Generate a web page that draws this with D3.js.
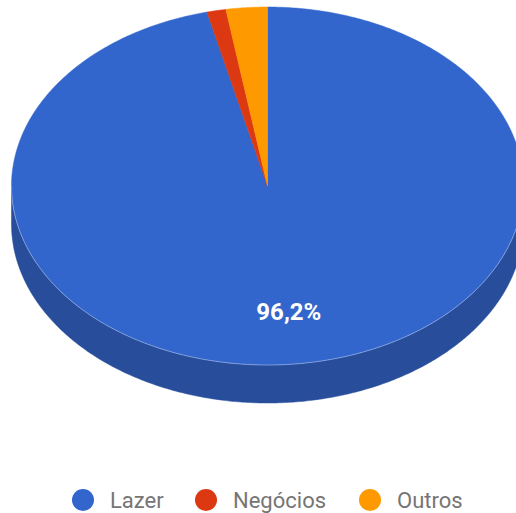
<!DOCTYPE html>
<html>
<head>
<meta charset="utf-8">
<script src="https://cdn.jsdelivr.net/npm/d3@7"></script>
<style>
  html, body { margin: 0; padding: 0; background: #fff; }
  svg { display: block; font-family: Roboto, "Noto Sans", sans-serif; }
</style>
</head>
<body>
<svg id="chart" width="516" height="513"></svg>
<script>
// Motivo da viagem
const categories = ["Lazer", "Negócios", "Outros"];
const values = [96.2, 1.2, 2.6];
const colors = ["#3366cc", "#dc3912", "#ff9900"];
const sideColors = ["#274d9b", "#a52b0e", "#bf7300"];

const W = 516, H = 513;
const cx = 267.5, cy = 186, rx = 256, ry = 179, depth = 38;

const svg = d3.select("#chart");

// Angles run clockwise from 12 o'clock, as in the flat pie layout.
const pie = d3.pie().sort(null).value(d => d)
  .startAngle(0).endAngle(2 * Math.PI);
const arcs = pie(values);

// Projected point on the tilted ellipse for angle a.
const pt = (a, k = 1, dy = 0) => [cx + k * rx * Math.sin(a), cy - k * ry * Math.cos(a) + dy];

function topPath(a0, a1) {
  const p = d3.path();
  p.moveTo(cx, cy);
  const n = Math.max(2, Math.ceil((a1 - a0) / 0.01));
  for (let i = 0; i <= n; i++) {
    const a = a0 + (a1 - a0) * i / n;
    const [x, y] = pt(a);
    p.lineTo(x, y);
  }
  p.closePath();
  return p.toString();
}

// Front wall: visible where cos(a) < 0, i.e. between 90° and 270°.
function sidePath(a0, a1) {
  const lo = Math.max(a0, Math.PI / 2), hi = Math.min(a1, 3 * Math.PI / 2);
  if (hi <= lo) return null;
  const p = d3.path();
  const n = Math.max(2, Math.ceil((hi - lo) / 0.01));
  const top = [], bot = [];
  for (let i = 0; i <= n; i++) {
    const a = lo + (hi - lo) * i / n;
    top.push(pt(a));
    bot.push(pt(a, 1, depth));
  }
  p.moveTo(top[0][0], top[0][1]);
  top.forEach(q => p.lineTo(q[0], q[1]));
  bot.reverse().forEach(q => p.lineTo(q[0], q[1]));
  p.closePath();
  return p.toString();
}

const g = svg.append("g");

g.selectAll("path.side").data(arcs).enter()
  .filter(d => sidePath(d.startAngle, d.endAngle))
  .append("path").attr("class", "side")
  .attr("d", d => sidePath(d.startAngle, d.endAngle))
  .attr("fill", (d, i) => sideColors[i])
  .attr("stroke", (d, i) => sideColors[i]).attr("stroke-width", 0.5);

g.selectAll("path.top").data(arcs).enter()
  .append("path").attr("class", "top")
  .attr("d", d => topPath(d.startAngle, d.endAngle))
  .attr("fill", (d, i) => colors[i])
  .attr("stroke", (d, i) => colors[i]).attr("stroke-width", 0.5);

// Light rim along the front edge of the top face
const rim = d3.path();
for (let i = 0; i <= 200; i++) {
  const a = Math.PI / 2 + Math.PI * i / 200;
  const [x, y] = pt(a);
  i ? rim.lineTo(x, y) : rim.moveTo(x, y);
}
g.append("path").attr("d", rim.toString()).attr("fill", "none")
  .attr("stroke", "#ffffff").attr("stroke-opacity", 0.35).attr("stroke-width", 1);

// Percentage labels (only slices large enough to hold one)
const fmt = v => d3.format(".1f")(v).replace(".", ",") + "%";
const total = d3.sum(values);
g.selectAll("text.pct").data(arcs.filter(d => d.value / total > 0.05)).enter()
  .append("text").attr("class", "pct")
  .attr("x", d => pt((d.startAngle + d.endAngle) / 2, 0.7)[0])
  .attr("y", d => pt((d.startAngle + d.endAngle) / 2, 0.7)[1] + 2)
  .attr("text-anchor", "middle").attr("dominant-baseline", "central")
  .attr("fill", "#ffffff").attr("font-size", 24).attr("font-weight", "bold")
  .text(d => fmt(d.value));

// Legend
const legendX = [83, 206, 370];
const legend = svg.append("g").attr("transform", "translate(0,500)");
const items = legend.selectAll("g").data(categories).enter().append("g")
  .attr("transform", (d, i) => `translate(${legendX[i]},0)`);
items.append("circle").attr("r", 11).attr("fill", (d, i) => colors[i]);
items.append("text").attr("x", 27).attr("dy", "0.36em")
  .attr("font-size", 22).attr("fill", "#757575").text(d => d);
</script>
</body>
</html>
